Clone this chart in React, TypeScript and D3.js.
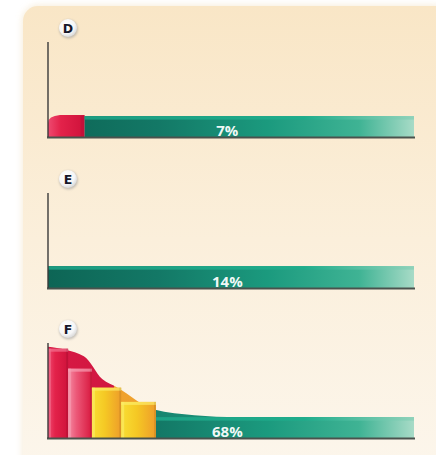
import React from "react";
import * as d3 from "d3";

const PANEL_LABELS = ["D", "E", "F"];
const SHARE_LABELS = ["7%", "14%", "68%"];
const LABEL_POS = 49; // x position of the share label, in axis units

type Step = { x0: number; x1: number; v: number; tone: string };

const D_STEPS: Step[] = [
  { x0: 0, x1: 10, v: 22, tone: "red" },
  { x0: 10, x1: 100, v: 22, tone: "teal" },
];
const E_STEPS: Step[] = [{ x0: 0, x1: 100, v: 23, tone: "teal" }];
const F_STEPS: Step[] = [
  { x0: 0, x1: 5.5, v: 94, tone: "red" },
  { x0: 5.5, x1: 12, v: 73, tone: "pink" },
  { x0: 12, x1: 20, v: 53, tone: "yellow" },
  { x0: 20, x1: 29.5, v: 38, tone: "yellow" },
  { x0: 29.5, x1: 100, v: 22, tone: "teal" },
];
const F_ENVELOPE: [number, number][] = [
  [0, 96], [9.8, 86], [14.8, 62], [19, 53], [29, 30], [40, 24], [52, 22], [100, 22],
];
const PANEL_STEPS = [D_STEPS, E_STEPS, F_STEPS];
const PANEL_ENVELOPES: ([number, number][] | null)[] = [null, null, F_ENVELOPE];

const W = 436, H = 455;
const BASES = [137, 288, 438];
const PANEL_H = 95;
const x = d3.scaleLinear().domain([0, 100]).range([48, 414]);

const toneFill: Record<string, string> = {
  red: "url(#gRed)",
  pink: "url(#gPink)",
  yellow: "url(#gYellow)",
};
const toneHi: Record<string, string> = {
  red: "#f2708e",
  pink: "#f7a0b4",
  yellow: "#fcec6a",
};

export default function App() {
  const area = d3.area<[number, number]>().curve(d3.curveMonotoneX);
  return (
    <svg width={W} height={H} style={{ position: "absolute", left: 0, top: 0 }}
      fontFamily="'Open Sans', 'Noto Sans', sans-serif">
      <defs>
        <linearGradient id="gBg" x1="0" y1="0" x2="0" y2="1">
          <stop offset="0" stopColor="#f9e6c6" />
          <stop offset="0.5" stopColor="#fbefdb" />
          <stop offset="1" stopColor="#fcf6ec" />
        </linearGradient>
        <filter id="fBlur" x="-5%" y="-5%" width="110%" height="110%">
          <feGaussianBlur stdDeviation="3" />
        </filter>
        <filter id="fBadge" x="-50%" y="-50%" width="200%" height="200%">
          <feGaussianBlur stdDeviation="1.2" />
        </filter>
        <linearGradient id="gRed" x1="0" y1="0" x2="1" y2="0">
          <stop offset="0" stopColor="#ee4a70" />
          <stop offset="0.35" stopColor="#e3224a" />
          <stop offset="1" stopColor="#cf123b" />
        </linearGradient>
        <linearGradient id="gPink" x1="0" y1="0" x2="1" y2="0">
          <stop offset="0" stopColor="#f58aa2" />
          <stop offset="0.35" stopColor="#ec5878" />
          <stop offset="1" stopColor="#d8193f" />
        </linearGradient>
        <linearGradient id="gYellow" x1="0" y1="0" x2="1" y2="0">
          <stop offset="0" stopColor="#f9de34" />
          <stop offset="0.45" stopColor="#f5c824" />
          <stop offset="1" stopColor="#ee9d2a" />
        </linearGradient>
        <linearGradient id="gTeal" gradientUnits="userSpaceOnUse" x1={x(0)} y1="0" x2={x(100)} y2="0">
          <stop offset="0" stopColor="#0d6555" />
          <stop offset="0.3" stopColor="#137866" />
          <stop offset="0.6" stopColor="#1b9a7e" />
          <stop offset="0.85" stopColor="#3fb394" />
          <stop offset="1" stopColor="#a8dbc7" />
        </linearGradient>
        <linearGradient id="gTealTop" gradientUnits="userSpaceOnUse" x1={x(0)} y1="0" x2={x(100)} y2="0">
          <stop offset="0" stopColor="#1b9a80" />
          <stop offset="0.7" stopColor="#1fad8c" />
          <stop offset="1" stopColor="#8fd2ba" />
        </linearGradient>
        <linearGradient id="gEnv" gradientUnits="userSpaceOnUse" x1={x(0)} y1="0" x2={x(100)} y2="0">
          <stop offset="0" stopColor="#d81a45" />
          <stop offset={0.18} stopColor="#d01640" />
          <stop offset={0.18} stopColor="#f0a22e" />
          <stop offset={0.295} stopColor="#eea02c" />
          <stop offset={0.295} stopColor="#17846f" />
          <stop offset="0.7" stopColor="#1fa586" />
          <stop offset="1" stopColor="#8fd2ba" />
        </linearGradient>
        <radialGradient id="gBadge" cx="0.4" cy="0.35" r="0.7">
          <stop offset="0" stopColor="#ffffff" />
          <stop offset="0.65" stopColor="#f6f6f6" />
          <stop offset="1" stopColor="#d4d4d4" />
        </radialGradient>
      </defs>

      <rect x={0} y={0} width={W} height={H} fill="#ffffff" />
      <rect x={22} y={5} width={430} height={470} rx={16} fill="#f2e2c4" opacity={0.6} filter="url(#fBlur)" />
      <rect x={23} y={6} width={428} height={468} rx={15} fill="url(#gBg)" />

      {PANEL_LABELS.map((lab, i) => {
        const base = BASES[i];
        const y = d3.scaleLinear().domain([0, 100]).range([base, base - PANEL_H]);
        const steps = PANEL_STEPS[i];
        const env = PANEL_ENVELOPES[i];
        const by = y(100) - 14;
        return (
          <g key={lab}>
            {env && (
              <path
                d={area.x((d) => x(d[0])).y0(base).y1((d) => y(d[1]))(env) || ""}
                fill="url(#gEnv)"
              />
            )}
            {steps.map((s, j) => {
              const x0 = x(s.x0), x1 = x(s.x1), top = y(s.v);
              if (s.tone === "teal") {
                return (
                  <g key={j}>
                    <rect x={x0} y={top} width={x1 - x0} height={base - top} fill="url(#gTeal)" />
                    <rect x={x0} y={top} width={x1 - x0} height={3.5} fill="url(#gTealTop)" />
                  </g>
                );
              }
              if (i === 0 && s.tone === "red") {
                const r = 12;
                const dPath = `M${x0},${base} V${top + 7} Q${x0},${top} ${x0 + r},${top - 1} H${x1} V${base} Z`;
                return (
                  <g key={j}>
                    <path d={dPath} fill="url(#gRed)" />
                    <rect x={x1 - 4} y={top} width={4} height={base - top} fill="#b80e35" opacity={0.5} />
                  </g>
                );
              }
              return (
                <g key={j}>
                  <rect x={x0} y={top} width={x1 - x0} height={base - top} fill={toneFill[s.tone]} />
                  <rect x={x0} y={top} width={x1 - x0} height={3} fill={toneHi[s.tone]} opacity={0.7} />
                  <rect x={x0} y={top} width={3} height={base - top} fill={toneHi[s.tone]} opacity={0.6} />
                  <rect x={x1 - 2} y={top} width={2} height={base - top} fill="#000" opacity={0.08} />
                </g>
              );
            })}
            <line x1={x(0) - 1} x2={x(100) + 1} y1={base + 0.5} y2={base + 0.5} stroke="#4a524d" strokeWidth={1.8} />
            <line x1={x(0)} x2={x(0)} y1={y(100)} y2={base} stroke="#3a3a3a" strokeWidth={1.4} />
            <text x={x(LABEL_POS)} y={base - 1} textAnchor="middle" fill="#ffffff" fillOpacity={0.95}
              fontWeight={700} fontSize={15}>
              {SHARE_LABELS[i]}
            </text>
            <circle cx={68.5} cy={by + 1} r={9.5} fill="#9a9a9a" opacity={0.55} filter="url(#fBadge)" />
            <circle cx={68} cy={by} r={9} fill="url(#gBadge)" />
            <text x={68} y={by + 4.5} textAnchor="middle" fill="#17172a" fontWeight={700} fontSize={12.5}
              fontFamily="'DejaVu Sans', sans-serif">
              {lab}
            </text>
          </g>
        );
      })}
    </svg>
  );
}
